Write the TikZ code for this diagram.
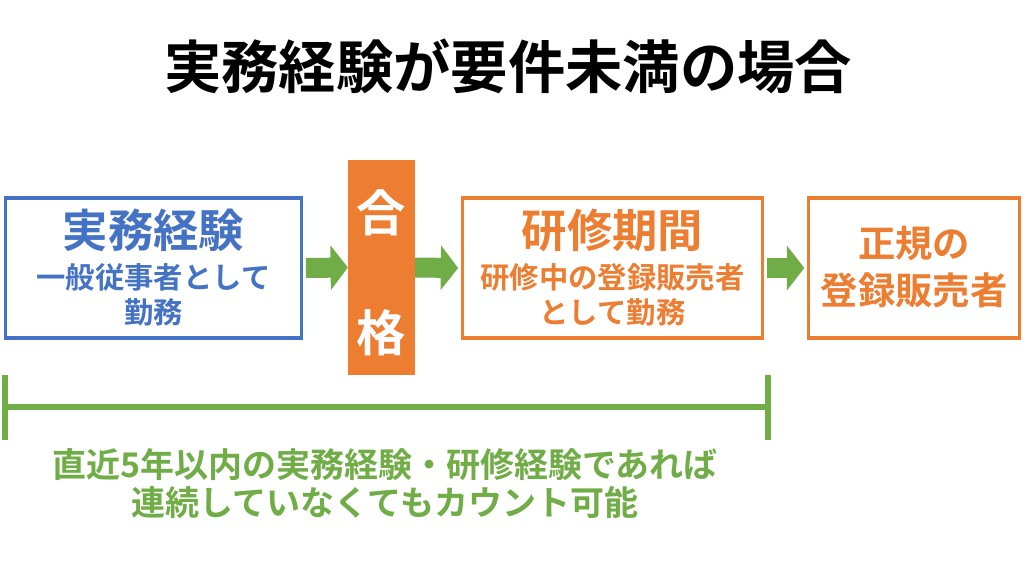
\documentclass[tikz,border=0pt]{standalone}
\usepackage{fontspec}
\setmainfont{Noto Sans CJK JP}[BoldFont={* Bold}]
\usetikzlibrary{arrows.meta}
\definecolor{bl}{HTML}{4472C4}
\definecolor{org}{HTML}{ED7D31}
\definecolor{grn}{HTML}{70AD47}
\tikzset{
 box/.style={draw=#1,line width=2.6pt,inner sep=0pt,minimum height=105pt},
 txt/.style={font=\bfseries,inner sep=0pt},
 barrow/.style={draw=grn,line width=15pt,-{Triangle[length=13pt,width=33pt]}}
}
\begin{document}
\begin{tikzpicture}[x=0.75pt,y=-0.75pt]
\useasboundingbox[fill=white] (0,0) rectangle (1024,576);
\node[txt,font=\bfseries\fontsize{43}{48}\selectfont] (title) at (508,66) {実務経験が要件未満の場合};
\node[box=bl,minimum width=222pt] (b1) at (153.5,268) {};
\node[fill=org,minimum width=50pt,minimum height=161pt,inner sep=0pt] (gk) at (381.5,267.5) {};
\node[box=org,minimum width=225pt] (b2) at (612.5,268) {};
\node[box=org,minimum width=158pt] (b3) at (914,268) {};
\node[txt,text=bl,font=\bfseries\fontsize{34}{38}\selectfont] (t1) at (153.5,230) {実務経験};
\node[txt,text=bl,font=\bfseries\fontsize{22}{26}\selectfont] (t1b) at (153.5,277) {一般従事者として};
\node[txt,text=bl,font=\bfseries\fontsize{22}{26}\selectfont] (t1c) at (153.5,312) {勤務};
\node[txt,text=white,font=\bfseries\fontsize{37}{42}\selectfont] (g1) at (381.5,213) {合};
\node[txt,text=white,font=\bfseries\fontsize{37}{42}\selectfont] (g2) at (381.5,333) {格};
\node[txt,text=org,font=\bfseries\fontsize{34}{38}\selectfont] (t2) at (612.5,230) {研修期間};
\node[txt,text=org,font=\bfseries\fontsize{22}{26}\selectfont] (t2b) at (612.5,277) {研修中の登録販売者};
\node[txt,text=org,font=\bfseries\fontsize{22}{26}\selectfont] (t2c) at (612.5,312) {として勤務};
\node[txt,text=org,font=\bfseries\fontsize{28}{32}\selectfont] (t3) at (914,243) {正規の};
\node[txt,text=org,font=\bfseries\fontsize{28}{32}\selectfont] (t3b) at (914,290) {登録販売者};
\draw[barrow] ([xshift=2pt]b1.east) -- (gk.west);
\draw[barrow] (gk.east) -- ([xshift=-2pt]b2.west);
\draw[barrow] ([xshift=2pt]b2.east) -- ([xshift=-2pt]b3.west);
\coordinate (la) at (5,375); \coordinate (lb) at (5,440);
\coordinate (ra) at (768,375); \coordinate (rb) at (768,440);
\coordinate (lm) at (5,407); \coordinate (rm) at (768,407);
\draw[grn,line width=3.8pt] (la) -- (lb) (ra) -- (rb) (lm) -- (rm);
\node[txt,text=grn,font=\bfseries\fontsize{25.5}{30}\selectfont] (n1) at (385,465) {直近5年以内の実務経験・研修経験であれば};
\node[txt,text=grn,font=\bfseries\fontsize{25.5}{30}\selectfont] (n2) at (385,503) {連続していなくてもカウント可能};
\end{tikzpicture}
\end{document}
